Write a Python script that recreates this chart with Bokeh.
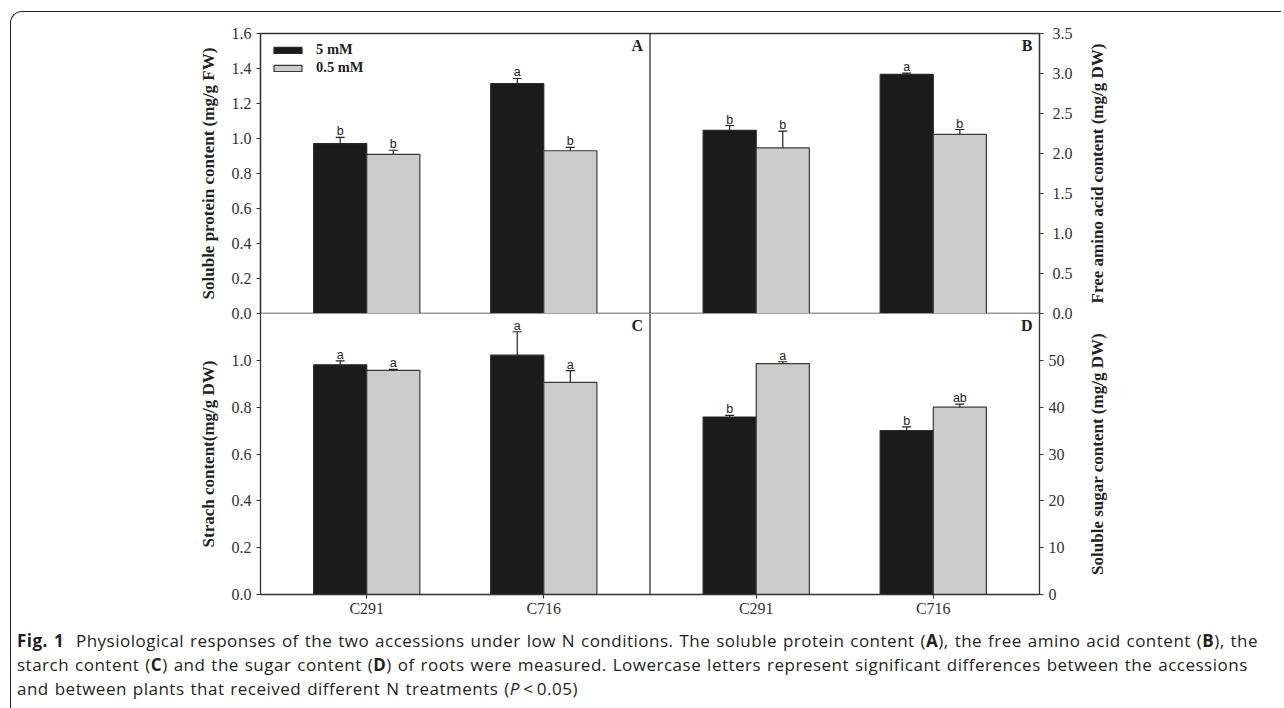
from bokeh.plotting import figure
from bokeh.models import (Range1d, LinearAxis, FixedTicker, PrintfTickFormatter, Span,
                          Whisker, TeeHead, ColumnDataSource, Legend, LegendItem, Div)
from bokeh.layouts import column, row
from bokeh.core.properties import value
from bokeh.embed import file_html
from bokeh.resources import INLINE

# ---------------- data ----------------
categories = ["C291", "C716"]
treatments = ["5 mM", "0.5 mM"]

protein_5mM = [0.971, 1.314]
protein_5mM_se = [0.036, 0.029]
protein_05mM = [0.909, 0.930]
protein_05mM_se = [0.024, 0.019]
protein_letters_5mM = ["b", "a"]
protein_letters_05mM = ["b", "b"]

amino_5mM = [2.29, 2.99]
amino_5mM_se = [0.06, 0.015]
amino_05mM = [2.07, 2.24]
amino_05mM_se = [0.21, 0.06]
amino_letters_5mM = ["b", "a"]
amino_letters_05mM = ["b", "b"]

starch_5mM = [0.981, 1.022]
starch_5mM_se = [0.017, 0.10]
starch_05mM = [0.957, 0.906]
starch_05mM_se = [0.004, 0.05]
starch_letters_5mM = ["a", "a"]
starch_letters_05mM = ["a", "a"]

sugar_5mM = [37.9, 35.0]
sugar_5mM_se = [0.35, 0.8]
sugar_05mM = [49.3, 40.0]
sugar_05mM_se = [0.4, 0.65]
sugar_letters_5mM = ["b", "b"]
sugar_letters_05mM = ["a", "ab"]

protein_ticks = [0.0, 0.2, 0.4, 0.6, 0.8, 1.0, 1.2, 1.4, 1.6]
amino_ticks = [0.0, 0.5, 1.0, 1.5, 2.0, 2.5, 3.0, 3.5]
starch_ticks = [0.0, 0.2, 0.4, 0.6, 0.8, 1.0]
sugar_ticks = [0, 10, 20, 30, 40, 50]

protein_label = "Soluble protein content (mg/g FW)"
amino_label = "Free amino acid content (mg/g DW)"
starch_label = "Strach content(mg/g DW)"
sugar_label = "Soluble sugar content (mg/g DW)"

# ---------------- style ----------------
SERIF = "Liberation Serif"
SANS = "Liberation Sans"
AX = "#333333"
BLACK = "#1b1b1b"
GREY = "#cccccc"
TICK_FS = "16px"
LABEL_FS = "17px"

FRAME_W = 779
FRAME_H_TOP = 280
FRAME_H_BOT = 281
FIG_W = 1073
BORDER_L = 249
BORDER_R = FIG_W - BORDER_L - FRAME_W
OVERLAP = 12          # top figure keeps room below its frame for the "0.0" labels
TOP_B = 21
BOT_B = 30

PANEL_SPAN = 2.2      # x-extent of one panel (categories at 0.6 and 1.6 within it)
BAR_W = 0.3
X0 = -0.6
X1 = X0 + 2 * PANEL_SPAN


def style_axis(ax, ticks, fmt, label, standoff, label_standoff):
    ax.ticker = FixedTicker(ticks=ticks)
    ax.formatter = PrintfTickFormatter(format=fmt)
    if label:
        ax.axis_label = label
        ax.axis_label_text_font = SERIF
        ax.axis_label_text_font_style = "bold"
        ax.axis_label_text_font_size = LABEL_FS
        ax.axis_label_text_color = "#222222"
        ax.axis_label_standoff = label_standoff
    ax.major_label_text_font = SERIF
    ax.major_label_text_font_size = TICK_FS
    ax.major_label_text_color = "#333333"
    ax.major_label_standoff = standoff
    ax.major_tick_in = 0
    ax.major_tick_out = 4
    ax.minor_tick_in = 0
    ax.minor_tick_out = 0
    ax.axis_line_color = AX
    ax.axis_line_width = 1.3
    ax.major_tick_line_color = AX
    ax.major_tick_line_width = 1.2


def label_fig(text, height, b_top, b_bot, b_left):
    """Narrow strip carrying a right-hand axis title that reads bottom-to-top."""
    f = figure(width=b_left + 8, height=height, output_backend="svg", toolbar_location=None,
               x_range=Range1d(0, 1), y_range=Range1d(0, 1), x_axis_location=None,
               min_border_left=b_left, min_border_right=0, min_border_top=b_top,
               min_border_bottom=b_bot, tools="")
    f.xgrid.visible = False
    f.ygrid.visible = False
    f.outline_line_color = None
    f.background_fill_color = None
    f.border_fill_color = None
    ax = f.yaxis[0]
    ax.ticker = FixedTicker(ticks=[])
    ax.axis_line_color = None
    ax.major_tick_out = 0
    ax.major_tick_in = 0
    ax.minor_tick_out = 0
    ax.minor_tick_in = 0
    ax.major_label_standoff = 0
    ax.axis_label = text
    ax.axis_label_standoff = 0
    ax.axis_label_text_font = SERIF
    ax.axis_label_text_font_style = "bold"
    ax.axis_label_text_font_size = LABEL_FS
    ax.axis_label_text_color = "#222222"
    return f


def draw_panel(p, offset, v5, e5, l5, v05, e05, l05, rn):
    x5 = [offset + 0.6 + i - BAR_W / 2 for i in range(len(categories))]
    x05 = [offset + 0.6 + i + BAR_W / 2 for i in range(len(categories))]
    r5 = p.vbar(x=x5, top=v5, bottom=0, width=BAR_W, fill_color=BLACK,
                line_color="#2a2a2a", line_width=1.2, y_range_name=rn)
    r05 = p.vbar(x=x05, top=v05, bottom=0, width=BAR_W, fill_color=GREY,
                 line_color="#3a3a3a", line_width=1.2, y_range_name=rn)
    for xs, vs, es, ls in ((x5, v5, e5, l5), (x05, v05, e05, l05)):
        up = [v + e for v, e in zip(vs, es)]
        src = ColumnDataSource(dict(x=xs, lower=vs, upper=up, lab=ls))
        w = Whisker(source=src, base="x", lower="lower", upper="upper", dimension="height",
                    lower_head=None,
                    upper_head=TeeHead(size=9, line_color="#222222", line_width=1.2),
                    line_color="#222222", line_width=1.2, y_range_name=rn, level="overlay")
        p.add_layout(w)
        p.text(x="x", y="upper", text="lab", source=src, y_range_name=rn,
               text_align="center", text_baseline="bottom", y_offset=1,
               text_font=value(SANS), text_font_size="12.5px", text_color="#222222")
    return r5, r05


def panel_letter(p, x, y, letter, rn):
    p.text(x=[x], y=[y], text=[letter], x_offset=-7, y_offset=3,
           text_align="right", text_baseline="top", y_range_name=rn,
           text_font=value(SERIF), text_font_style="bold", text_font_size="16px",
           text_color="#222222")


def base_fig(height, y0, y1, extra, b_top, b_bot, x_loc):
    p = figure(width=FIG_W, height=height, output_backend="svg", toolbar_location=None,
               x_range=Range1d(X0, X1), y_range=Range1d(y0, y1),
               x_axis_location=x_loc, min_border_left=BORDER_L, min_border_right=BORDER_R,
               min_border_top=b_top, min_border_bottom=b_bot, tools="")
    p.extra_y_ranges = extra
    p.xgrid.visible = False
    p.ygrid.visible = False
    p.background_fill_color = "white"
    p.border_fill_color = None
    p.outline_line_color = AX
    p.outline_line_width = 1.3
    p.add_layout(Span(location=X0 + PANEL_SPAN, dimension="height",
                      line_color=AX, line_width=1.3))
    return p


# ---------------- top row: A (left axis) and B (right axis) ----------------
top_h = TOP_B + FRAME_H_TOP + OVERLAP
top = base_fig(top_h, 0, 1.6, {"B": Range1d(0, 3.5)}, TOP_B, OVERLAP, None)
style_axis(top.yaxis[0], protein_ticks, "%.1f", protein_label, 5, 11)
axB = LinearAxis(y_range_name="B")
style_axis(axB, amino_ticks, "%.1f", None, 9, 0)
top.add_layout(axB, "right")

rA5, rA05 = draw_panel(top, X0, protein_5mM, protein_5mM_se, protein_letters_5mM,
                       protein_05mM, protein_05mM_se, protein_letters_05mM, "default")
draw_panel(top, X0 + PANEL_SPAN, amino_5mM, amino_5mM_se, amino_letters_5mM,
           amino_05mM, amino_05mM_se, amino_letters_05mM, "B")
panel_letter(top, X0 + PANEL_SPAN, 1.6, "A", "default")
panel_letter(top, X1, 3.5, "B", "B")

legend = Legend(items=[LegendItem(label=treatments[0], renderers=[rA5]),
                       LegendItem(label=treatments[1], renderers=[rA05])],
                location=(10, FRAME_H_TOP - 8 - 35), orientation="vertical",
                glyph_width=35, glyph_height=8, label_height=17, spacing=1,
                label_standoff=11, padding=0, margin=0,
                border_line_color=None, background_fill_color=None,
                label_text_font=SERIF, label_text_font_style="bold",
                label_text_font_size="14.5px", label_text_color="#222222")
top.add_layout(legend)
labB = label_fig(amino_label, top_h, TOP_B, OVERLAP, 18)

# ---------------- bottom row: C (left axis) and D (right axis) ----------------
bot_h = FRAME_H_BOT + BOT_B
bot = base_fig(bot_h, 0, 1.2, {"D": Range1d(0, 60)}, 0, BOT_B, "below")
bot.outline_line_color = None
style_axis(bot.yaxis[0], starch_ticks, "%.1f", starch_label, 5, 11)
axD = LinearAxis(y_range_name="D")
style_axis(axD, sugar_ticks, "%d", None, 5, 0)
bot.add_layout(axD, "right")
labD = label_fig(sugar_label, bot_h, 0, BOT_B, 21)

xax = bot.xaxis[0]
cat_pos = [0.0, 1.0, PANEL_SPAN, PANEL_SPAN + 1.0]
xax.ticker = FixedTicker(ticks=cat_pos)
xax.major_label_overrides = {cat_pos[i]: categories[i % 2] for i in range(4)}
xax.major_label_text_font = SERIF
xax.major_label_text_font_size = TICK_FS
xax.major_label_text_color = "#333333"
xax.major_label_standoff = 1
xax.major_tick_in = 0
xax.major_tick_out = 4
xax.minor_tick_out = 0
xax.axis_line_color = AX
xax.axis_line_width = 1.3
xax.major_tick_line_color = AX

draw_panel(bot, X0, starch_5mM, starch_5mM_se, starch_letters_5mM,
           starch_05mM, starch_05mM_se, starch_letters_05mM, "default")
draw_panel(bot, X0 + PANEL_SPAN, sugar_5mM, sugar_5mM_se, sugar_letters_5mM,
           sugar_05mM, sugar_05mM_se, sugar_letters_05mM, "D")
panel_letter(bot, X0 + PANEL_SPAN, 1.2, "C", "default")
panel_letter(bot, X1, 60, "D", "D")

# ---------------- caption ----------------
caption_html = (
    "<b>Fig. 1</b>&nbsp;&nbsp;Physiological responses of the two accessions under low N conditions. "
    "The soluble protein content (<b>A</b>), the free amino acid content (<b>B</b>), the<br>"
    "starch content (<b>C</b>) and the sugar content (<b>D</b>) of roots were measured. "
    "Lowercase letters represent significant differences between the accessions<br>"
    "and between plants that received different N treatments (<i>P</i>&thinsp;&lt;&thinsp;0.05)"
)
cap = Div(text=caption_html, width=1260, height=80,
          styles={"font-family": "'Open Sans', sans-serif", "font-size": "17px",
                  "letter-spacing": "0.5px", "word-spacing": "1px",
                  "line-height": "24px", "color": "#231f20", "padding-left": "1px",
                  "padding-top": "0px", "white-space": "nowrap"})

row_top = row(top, labB)
row_bot = row(bot, labD, styles={"margin-top": f"-{OVERLAP}px"})

page = column(row_top, row_bot, cap,
              styles={"margin-left": "10px", "margin-top": "11px",
                      "border-top": "1.5px solid #222", "border-left": "1.5px solid #222",
                      "border-top-left-radius": "12px"})

open("out.html", "w").write(file_html(page, INLINE))
